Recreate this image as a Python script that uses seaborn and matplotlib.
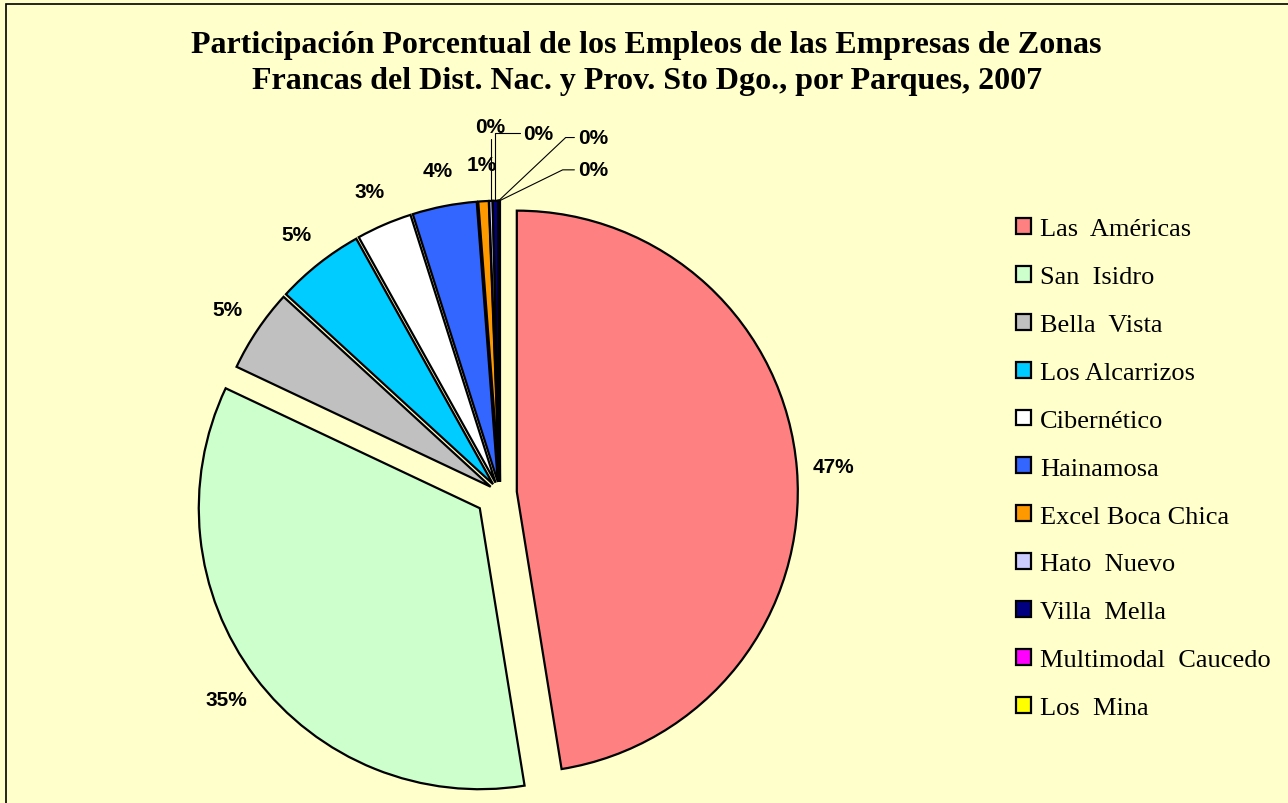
import numpy as np
import seaborn as sns
import matplotlib.pyplot as plt

# Datos: participación porcentual por parque (2007)
parques = ["Las  Américas", "San  Isidro", "Bella  Vista", "Los Alcarrizos",
           "Cibernético", "Hainamosa", "Excel Boca Chica", "Hato  Nuevo",
           "Villa  Mella", "Multimodal  Caucedo", "Los  Mina"]
participacion = [47.5, 34.6, 4.8, 5.1, 3.2, 3.7, 0.6, 0.2, 0.3, 0.05, 0.05]
colores = ["#FF8080", "#CCFFCC", "#C0C0C0", "#00CCFF", "#FFFFFF", "#3366FF",
           "#FF9900", "#CCCCFF", "#000080", "#FF00FF", "#FFFF00"]
separacion = [0.06, 0.09, 0.04, 0.04, 0.04, 0.04, 0.04, 0.04, 0.04, 0.04, 0.04]

sns.set_theme(style="white")
plt.rcParams["font.family"] = ["Liberation Sans", "DejaVu Sans"]
plt.rcParams["text.color"] = "black"

W, H = 1288, 804
fig = plt.figure(figsize=(W / 100, H / 100), dpi=100, facecolor="#FFFFCC")
ax = fig.add_axes([0, 0, 1, 1])
ax.set_facecolor("none")

wedges, _ = ax.pie(
    participacion,
    colors=colores,
    explode=separacion,
    startangle=90,
    counterclock=False,
    wedgeprops=dict(edgecolor="black", linewidth=1.6),
)

# pie centre and radius in pixels; 1 data unit = R pixels on both axes
cx, cy, R = 500, 494, 281
ax.set_aspect("auto")
ax.set_xlim(-cx / R, (W - cx) / R)
ax.set_ylim(-(H - cy) / R, cy / R)
ax.axis("off")

total = sum(participacion)
etiqueta_fmt = dict(fontsize=15, fontweight="bold", ha="center", va="center",
                    color="black", family=["Liberation Sans", "DejaVu Sans"])

# labels for larger slices
for w, v in zip(wedges[:7], participacion[:7]):
    ang = np.deg2rad((w.theta1 + w.theta2) / 2)
    ccx, ccy = w.center
    r = 1.13
    ax.text(ccx + r * np.cos(ang), ccy + r * np.sin(ang),
            f"{v / total * 100:.0f}%", **etiqueta_fmt)

# small slices with leader lines
pos_texto = [(-0.035, 1.305), (0.135, 1.28), (0.33, 1.265), (0.33, 1.15)]
conexiones = ["angle,angleA=0,angleB=90,rad=0",
              "angle,angleA=0,angleB=90,rad=0",
              "arc,angleA=180,armA=12,angleB=0,armB=0,rad=0",
              "arc,angleA=180,armA=15,angleB=0,armB=0,rad=0"]
relativos = [(0.6, 0), (0, 0.5), (0, 0.5), (0, 0.5)]
for w, v, (tx, ty), cs, rp in zip(wedges[7:], participacion[7:], pos_texto,
                                  conexiones, relativos):
    ang = np.deg2rad((w.theta1 + w.theta2) / 2)
    ccx, ccy = w.center
    ax.annotate(f"{v / total * 100:.0f}%", xy=(ccx + np.cos(ang), ccy + np.sin(ang)),
                xytext=(tx, ty), **etiqueta_fmt,
                arrowprops=dict(arrowstyle="-", color="black", lw=0.8,
                                relpos=rp, shrinkA=0, shrinkB=0,
                                connectionstyle=cs))

fig.text(0.502, 0.921,
         "Participación Porcentual de los Empleos de las Empresas de Zonas\n"
         "Francas del Dist. Nac. y Prov. Sto Dgo., por Parques, 2007",
         ha="center", va="center", fontsize=23, fontweight="bold", color="black",
         family=["Liberation Serif", "DejaVu Serif"], linespacing=1.33)

leg = fig.legend(wedges, parques, loc="upper left",
                 bbox_to_anchor=(1016 / W, 1 - 219 / H),
                 frameon=False, borderpad=0, borderaxespad=0,
                 handlelength=0.55, handleheight=0.55, handletextpad=0.35,
                 labelspacing=0.97,
                 prop=dict(family=["Liberation Serif", "DejaVu Serif"], size=19))

# chart border
fig.patches.append(plt.Rectangle((6 / W, -0.01), 1.1, 1 - 5 / H + 0.01,
                                 transform=fig.transFigure, fill=False,
                                 edgecolor="black", linewidth=1.2))

fig.savefig("out.png", dpi=100, facecolor=fig.get_facecolor())
